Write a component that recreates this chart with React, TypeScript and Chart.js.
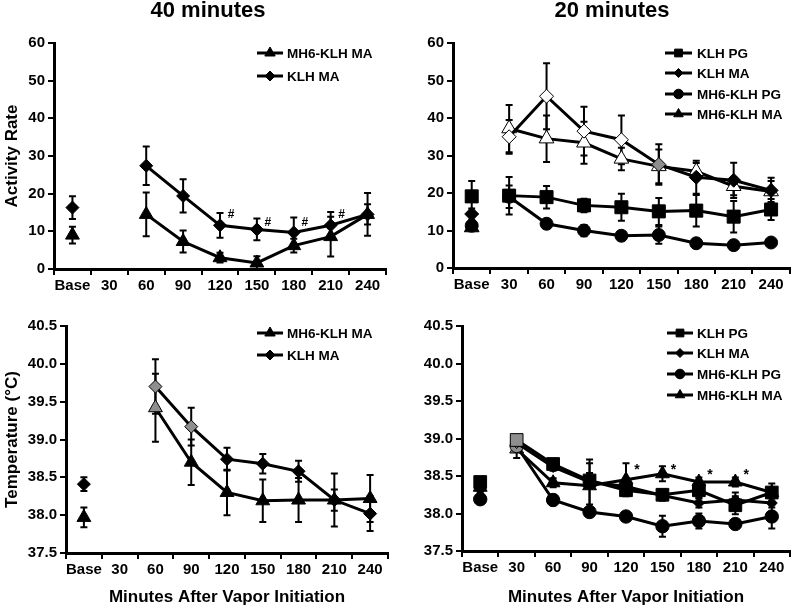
import React, { useEffect, useRef } from "react";
import { Chart, registerables } from "chart.js";

Chart.register(...registerables);

const FONT = "'Liberation Sans', Arial, Helvetica, sans-serif";
const BLACK = "#000000";
const WHITE = "#ffffff";
const GREY = "#8e8e8e";

// ---------- data ----------
const categories = ["Base", "30", "60", "90", "120", "150", "180", "210", "240"];

// Activity rate, 40 minutes
const act40Mh6Ma = [9.0, null, 14.5, 7.3, 3.0, 1.6, 6.2, 8.6, 14.5];
const act40Mh6MaSem = [2.2, null, 5.8, 2.9, 1.3, 1.8, 1.8, 5.3, 2.7];
const act40KlhMa = [16.3, null, 27.4, 19.4, 11.6, 10.5, 9.7, 11.6, 14.5];
const act40KlhMaSem = [3.0, null, 5.1, 4.4, 3.3, 2.9, 4.0, 3.5, 5.7];
const act40HashCats = ["120", "150", "180", "210"];
const act40HashLevels = [14.3, 12.4, 12.4, 14.3];

// Activity rate, 20 minutes
const act20KlhPg = [19.1, 19.3, 18.9, 16.7, 16.2, 15.1, 15.3, 13.7, 15.6];
const act20KlhPgSem = [4.1, 5.0, 3.0, 1.8, 3.6, 3.6, 4.2, 4.2, 2.8];
const act20KlhMa = [14.4, 35.0, 45.8, 36.5, 34.2, 27.6, 24.2, 23.4, 20.7];
const act20KlhMaSem = [1.5, 4.5, 8.8, 6.5, 6.5, 5.4, 4.4, 4.7, 3.4];
const act20Mh6Pg = [11.3, 19.0, 11.8, 10.0, 8.6, 8.8, 6.6, 6.1, 6.8];
const act20Mh6PgSem = [1.2, 3.0, 0.8, 1.5, 0.8, 2.3, 0.6, 0.5, 0.6];
const act20Mh6Ma = [10.8, 37.2, 34.5, 33.4, 29.1, 27.1, 25.8, 21.8, 20.4];
const act20Mh6MaSem = [1.0, 6.3, 6.2, 5.6, 3.0, 4.5, 2.2, 2.4, 2.8];

// Temperature, 40 minutes
const temp40Mh6Ma = [37.97, null, 39.42, 38.7, 38.3, 38.19, 38.2, 38.2, 38.22];
const temp40Mh6MaSem = [0.13, null, 0.45, 0.3, 0.3, 0.28, 0.29, 0.35, 0.31];
const temp40KlhMa = [38.41, null, 39.7, 39.17, 38.74, 38.68, 38.58, 38.2, 38.02];
const temp40KlhMaSem = [0.09, null, 0.36, 0.25, 0.15, 0.13, 0.14, 0.14, 0.23];

// Temperature, 20 minutes
const temp20KlhPg = [38.42, 38.98, 38.66, 38.44, 38.31, 38.25, 38.31, 38.11, 38.28];
const temp20KlhPgSem = [0.05, 0.05, 0.06, 0.1, 0.06, 0.07, 0.1, 0.12, 0.12];
const temp20KlhMa = [38.33, 38.94, 38.62, 38.42, 38.36, 38.24, 38.14, 38.18, 38.14];
const temp20KlhMaSem = [0.05, 0.05, 0.05, 0.3, 0.07, 0.07, 0.06, 0.1, 0.06];
const temp20Mh6Pg = [38.19, 38.9, 38.18, 38.02, 37.96, 37.83, 37.9, 37.86, 37.96];
const temp20Mh6PgSem = [0.06, 0.05, 0.07, 0.05, 0.04, 0.14, 0.1, 0.04, 0.16];
const temp20Mh6Ma = [38.35, 38.86, 38.41, 38.37, 38.45, 38.53, 38.42, 38.42, 38.28];
const temp20Mh6MaSem = [0.05, 0.12, 0.06, 0.3, 0.22, 0.1, 0.06, 0.06, 0.06];
const temp20StarCats = ["120", "150", "180", "210"];
const temp20StarLevels = [38.58, 38.58, 38.51, 38.51];

// marker fill states per time point
const allSolid = ["solid", "solid", "solid", "solid", "solid", "solid", "solid", "solid", "solid"];
const act20KlhMaFill = ["solid", "open", "open", "open", "open", "shaded", "solid", "solid", "solid"];
const act20Mh6MaFill = ["solid", "open", "open", "open", "open", "open", "open", "open", "open"];
const temp40Mh6MaFill = ["solid", "solid", "shaded", "solid", "solid", "solid", "solid", "solid", "solid"];
const temp40KlhMaFill = ["solid", "solid", "shaded", "shaded", "solid", "solid", "solid", "solid", "solid"];
const temp20Fill = ["solid", "shaded", "solid", "solid", "solid", "solid", "solid", "solid", "solid"];

// ---------- types ----------
type Marker = "triangle" | "rectRot" | "rect" | "circle";
interface SeriesDef {
  label: string;
  values: (number | null)[];
  sem: (number | null)[];
  marker: Marker;
  radius: number;
  legendRadius: number;
  fills: string[];
}
interface PanelDef {
  left: number;
  top: number;
  width: number;
  height: number;
  area: { l: number; r: number; t: number; b: number };
  title?: string;
  titleX?: number;
  yMin: number;
  yMax: number;
  yStep: number;
  yDecimals: number;
  yTitle?: string;
  xTitle?: string;
  series: SeriesDef[];
  legend: { x0: number; x1: number; tx: number; rows: number[] };
  marks?: { text: string; cats: string[]; levels: number[]; dx: number; size: number };
}

const FILL: Record<string, string> = { solid: BLACK, open: WHITE, shaded: GREY };

function drawMarker(ctx: CanvasRenderingContext2D, m: Marker, x: number, y: number, r: number, fill: string) {
  ctx.beginPath();
  if (m === "triangle") {
    ctx.moveTo(x, y - r);
    ctx.lineTo(x + r * 0.866, y + r * 0.5);
    ctx.lineTo(x - r * 0.866, y + r * 0.5);
    ctx.closePath();
  } else if (m === "rectRot") {
    ctx.moveTo(x, y - r);
    ctx.lineTo(x + r, y);
    ctx.lineTo(x, y + r);
    ctx.lineTo(x - r, y);
    ctx.closePath();
  } else if (m === "rect") {
    const s = r * Math.SQRT1_2;
    ctx.rect(x - s, y - s, 2 * s, 2 * s);
  } else {
    ctx.arc(x, y, r, 0, Math.PI * 2);
  }
  ctx.fillStyle = fill;
  ctx.fill();
  ctx.strokeStyle = BLACK;
  ctx.lineWidth = 1;
  ctx.stroke();
}

function decorPlugin(def: PanelDef) {
  return {
    id: "panelDecor",
    beforeDatasetsDraw(chart: any) {
      const ctx: CanvasRenderingContext2D = chart.ctx;
      const xs = chart.scales.x;
      const ys = chart.scales.y;
      ctx.save();
      ctx.strokeStyle = BLACK;
      ctx.lineWidth = 2;
      def.series.forEach((s) => {
        s.values.forEach((v, i) => {
          const e = s.sem[i];
          if (v == null || e == null) return;
          const px = xs.getPixelForValue(i);
          const y0 = ys.getPixelForValue(v - e);
          const y1 = ys.getPixelForValue(v + e);
          ctx.beginPath();
          ctx.moveTo(px, y0);
          ctx.lineTo(px, y1);
          ctx.moveTo(px - 3.5, y0);
          ctx.lineTo(px + 3.5, y0);
          ctx.moveTo(px - 3.5, y1);
          ctx.lineTo(px + 3.5, y1);
          ctx.stroke();
        });
      });
      ctx.restore();
    },
    afterDraw(chart: any) {
      const ctx: CanvasRenderingContext2D = chart.ctx;
      const xs = chart.scales.x;
      const ys = chart.scales.y;
      ctx.save();
      if (def.title) {
        ctx.font = `bold 22px ${FONT}`;
        ctx.fillStyle = BLACK;
        ctx.textAlign = "center";
        ctx.textBaseline = "middle";
        ctx.fillText(def.title, def.titleX ?? def.width / 2, 11);
      }
      // legend
      const lg = def.legend;
      def.series.forEach((s, k) => {
        const y = lg.rows[k];
        ctx.strokeStyle = BLACK;
        ctx.lineWidth = 3;
        ctx.beginPath();
        ctx.moveTo(lg.x0, y);
        ctx.lineTo(lg.x1, y);
        ctx.stroke();
        drawMarker(ctx, s.marker, (lg.x0 + lg.x1) / 2, y, s.legendRadius, BLACK);
        ctx.fillStyle = BLACK;
        ctx.font = `bold 13.5px ${FONT}`;
        ctx.textAlign = "left";
        ctx.textBaseline = "middle";
        ctx.fillText(s.label, lg.tx, y + 1);
      });
      // significance marks
      if (def.marks) {
        const mk = def.marks;
        ctx.fillStyle = BLACK;
        ctx.font = `bold ${mk.size}px ${FONT}`;
        ctx.textAlign = "center";
        ctx.textBaseline = "middle";
        mk.cats.forEach((c, i) => {
          const idx = categories.indexOf(c);
          ctx.fillText(mk.text, xs.getPixelForValue(idx) + mk.dx, ys.getPixelForValue(mk.levels[i]));
        });
      }
      ctx.restore();
    },
  };
}

function buildConfig(def: PanelDef): any {
  const font = (size: number) => ({ family: FONT, size, weight: "bold" as const });
  return {
    type: "line",
    data: {
      labels: categories,
      datasets: def.series.map((s) => ({
        label: s.label,
        data: s.values,
        borderColor: BLACK,
        borderWidth: 3,
        pointStyle: s.marker,
        pointRadius: s.radius,
        pointHoverRadius: s.radius,
        pointBackgroundColor: s.fills.map((f) => FILL[f]),
        pointBorderColor: BLACK,
        pointBorderWidth: 1,
        segment: {
          borderColor: (c: any) => (c.p0DataIndex === 0 ? "rgba(0,0,0,0)" : BLACK),
        },
        spanGaps: false,
        tension: 0,
        fill: false,
      })),
    },
    options: {
      animation: false,
      responsive: false,
      devicePixelRatio: 1,
      events: [],
      layout: { padding: { left: 0, top: def.area.t, right: def.width - def.area.r, bottom: 0 } },
      plugins: { legend: { display: false }, tooltip: { enabled: false }, title: { display: false } },
      scales: {
        x: {
          type: "category",
          offset: true,
          grid: { offset: true, drawOnChartArea: false, color: BLACK, lineWidth: 2, tickLength: 6 },
          border: { color: BLACK, width: 3 },
          ticks: { color: BLACK, font: font(15), padding: 2, autoSkip: false, maxRotation: 0 },
          title: {
            display: !!def.xTitle,
            text: def.xTitle ?? "",
            color: BLACK,
            font: font(17),
            padding: { top: 4, bottom: 2 },
          },
          afterFit: (s: any) => {
            s.height = def.height - def.area.b;
          },
        },
        y: {
          type: "linear",
          min: def.yMin,
          max: def.yMax,
          ticks: {
            stepSize: def.yStep,
            color: BLACK,
            font: font(15),
            padding: 3,
            callback: (v: any) => Number(v).toFixed(def.yDecimals),
          },
          grid: { drawOnChartArea: false, color: BLACK, lineWidth: 2, tickLength: 6 },
          border: { color: BLACK, width: 3 },
          title: {
            display: !!def.yTitle,
            text: def.yTitle ?? "",
            color: BLACK,
            font: font(17),
            padding: { top: 2, bottom: 2 },
          },
          afterFit: (s: any) => {
            s.width = def.area.l;
          },
        },
      },
    },
    plugins: [decorPlugin(def)],
  };
}

// ---------- panels ----------
const panels: PanelDef[] = [
  {
    left: 0, top: 0, width: 400, height: 290,
    area: { l: 54, r: 386, t: 43, b: 269 },
    title: "40 minutes", titleX: 208,
    yMin: 0, yMax: 60, yStep: 10, yDecimals: 0,
    yTitle: "Activity Rate",
    series: [
      { label: "MH6-KLH MA", values: act40Mh6Ma, sem: act40Mh6MaSem, marker: "triangle", radius: 8, legendRadius: 6, fills: allSolid },
      { label: "KLH MA", values: act40KlhMa, sem: act40KlhMaSem, marker: "rectRot", radius: 6.5, legendRadius: 5, fills: allSolid },
    ],
    legend: { x0: 257, x1: 283, tx: 287, rows: [53, 76] },
    marks: { text: "#", cats: act40HashCats, levels: act40HashLevels, dx: 11, size: 12 },
  },
  {
    left: 400, top: 0, width: 400, height: 290,
    area: { l: 53, r: 390, t: 43, b: 268 },
    title: "20 minutes", titleX: 212,
    yMin: 0, yMax: 60, yStep: 10, yDecimals: 0,
    series: [
      { label: "KLH PG", values: act20KlhPg, sem: act20KlhPgSem, marker: "rect", radius: 9.2, legendRadius: 5.5, fills: allSolid },
      { label: "KLH MA", values: act20KlhMa, sem: act20KlhMaSem, marker: "rectRot", radius: 7, legendRadius: 4.5, fills: act20KlhMaFill },
      { label: "MH6-KLH PG", values: act20Mh6Pg, sem: act20Mh6PgSem, marker: "circle", radius: 6.5, legendRadius: 4.8, fills: allSolid },
      { label: "MH6-KLH MA", values: act20Mh6Ma, sem: act20Mh6MaSem, marker: "triangle", radius: 8.5, legendRadius: 5.5, fills: act20Mh6MaFill },
    ],
    legend: { x0: 265, x1: 292, tx: 297, rows: [53, 73, 94, 114] },
  },
  {
    left: 0, top: 290, width: 400, height: 320,
    area: { l: 66, r: 388, t: 36, b: 263 },
    yMin: 37.5, yMax: 40.5, yStep: 0.5, yDecimals: 1,
    yTitle: "Temperature (°C)",
    xTitle: "Minutes After Vapor Initiation",
    series: [
      { label: "MH6-KLH MA", values: temp40Mh6Ma, sem: temp40Mh6MaSem, marker: "triangle", radius: 8, legendRadius: 6, fills: temp40Mh6MaFill },
      { label: "KLH MA", values: temp40KlhMa, sem: temp40KlhMaSem, marker: "rectRot", radius: 6.5, legendRadius: 5, fills: temp40KlhMaFill },
    ],
    legend: { x0: 257, x1: 283, tx: 287, rows: [43, 65] },
  },
  {
    left: 400, top: 290, width: 400, height: 320,
    area: { l: 62, r: 397, t: 36, b: 261 },
    yMin: 37.5, yMax: 40.5, yStep: 0.5, yDecimals: 1,
    xTitle: "Minutes After Vapor Initiation",
    series: [
      { label: "KLH PG", values: temp20KlhPg, sem: temp20KlhPgSem, marker: "rect", radius: 9, legendRadius: 5.5, fills: temp20Fill },
      { label: "KLH MA", values: temp20KlhMa, sem: temp20KlhMaSem, marker: "rectRot", radius: 5.5, legendRadius: 4.5, fills: temp20Fill },
      { label: "MH6-KLH PG", values: temp20Mh6Pg, sem: temp20Mh6PgSem, marker: "circle", radius: 6.7, legendRadius: 4.8, fills: temp20Fill },
      { label: "MH6-KLH MA", values: temp20Mh6Ma, sem: temp20Mh6MaSem, marker: "triangle", radius: 8, legendRadius: 5.5, fills: temp20Fill },
    ],
    legend: { x0: 267, x1: 293, tx: 297, rows: [43, 63, 84, 105] },
    marks: { text: "*", cats: temp20StarCats, levels: temp20StarLevels, dx: 11, size: 14 },
  },
];

function Panel({ def }: { def: PanelDef }) {
  const ref = useRef<HTMLCanvasElement>(null);
  useEffect(() => {
    if (!ref.current) return;
    const chart = new Chart(ref.current, buildConfig(def));
    return () => chart.destroy();
  }, [def]);
  return (
    <canvas
      ref={ref}
      width={def.width}
      height={def.height}
      style={{ position: "absolute", left: def.left, top: def.top, width: def.width, height: def.height }}
    />
  );
}

export default function App() {
  return (
    <div style={{ position: "absolute", left: 0, top: 0, width: 800, height: 610, background: "#ffffff", overflow: "hidden" }}>
      {panels.map((p, i) => (
        <Panel key={i} def={p} />
      ))}
    </div>
  );
}
